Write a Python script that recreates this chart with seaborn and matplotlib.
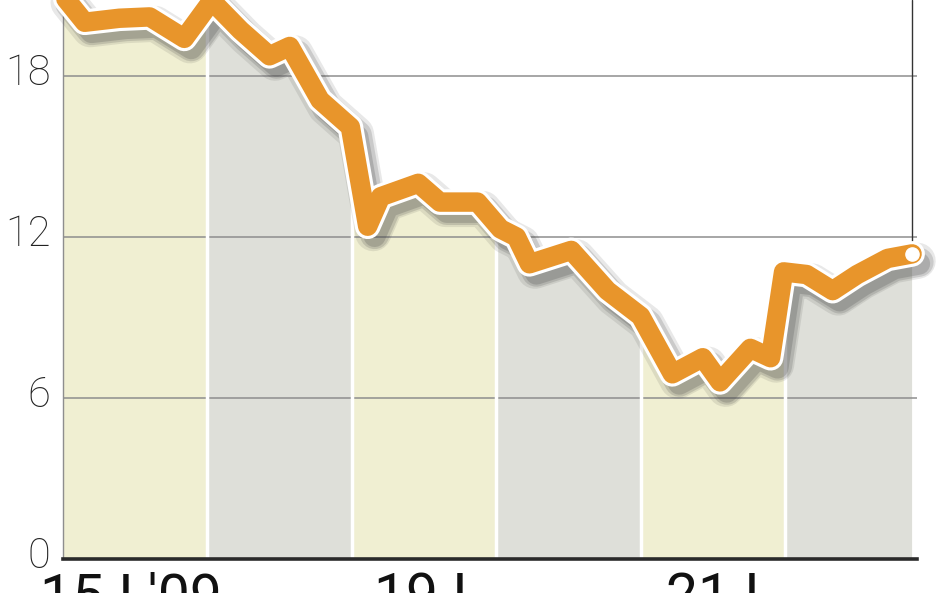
#!/usr/bin/env python3
"""
Notowania - wykres liniowy z wypelnieniem w kolumnach dni
"""

import pandas as pd
import matplotlib
matplotlib.use('Agg')
import matplotlib.pyplot as plt
import matplotlib.patheffects as pe
from matplotlib.transforms import ScaledTranslation
import seaborn as sns

# Dane (czas w dniach sesyjnych od 15 I)
time_days = [0.00, 0.15, 0.39, 0.60, 0.84, 1.03, 1.23, 1.43, 1.57, 1.78,
             1.99, 2.11, 2.20, 2.46, 2.61, 2.87, 3.03, 3.14, 3.23, 3.52,
             3.77, 4.00, 4.22, 4.43, 4.55, 4.76, 4.90, 4.99, 5.15, 5.33,
             5.50, 5.71, 5.88]
price = [21.0, 20.0, 20.15, 20.2, 19.4, 20.8, 19.7, 18.75, 19.1, 17.1,
         16.1, 12.4, 13.5, 14.0, 13.3, 13.3, 12.3, 12.0, 11.0, 11.5,
         10.0, 9.05, 6.9, 7.5, 6.6, 7.85, 7.5, 10.7, 10.6, 10.0,
         10.6, 11.2, 11.37]
n_days = 6
day_labels = ["15 I '09", "19 I", "21 I"]
label_pos = [0.47, 2.48, 4.5]
y_ticks = [0, 6, 12, 18]

ORANGE = '#e8952b'
COL_YELLOW = '#f0efd2'
COL_GRAY = '#dedfd9'

sns.set_style('white')
plt.rcParams['font.family'] = ['Roboto', 'DejaVu Sans']

df = pd.DataFrame({'t': time_days, 'v': price})

fig = plt.figure(figsize=(9.48, 5.93), dpi=100)
ax = fig.add_axes([63 / 948, 34 / 593, 854 / 948, 559 / 593])
y_top = 20.83
ax.set_xlim(0, 5.914)
ax.set_ylim(0, y_top)

# Obszar pod krzywa - kolumny dni
area = ax.fill_between(df['t'], df['v'], 0, color='none', lw=0)
clip = area.get_paths()[0]
for i in range(n_days):
    span = ax.axvspan(i, i + 1, color=COL_YELLOW if i % 2 == 0 else COL_GRAY, lw=0, zorder=1)
    span.set_clip_path(clip, ax.transData)

# Linie siatki
for y in y_ticks[1:]:
    ax.axhline(y, color='#8e8e8e', lw=1.1, zorder=2)

# Biale separatory dni
for i in range(1, n_days):
    sep = ax.axvline(i, color='white', lw=2.5, zorder=3)
    sep.set_clip_path(clip, ax.transData)

# Pionowa linia do ostatniego notowania
ax.plot([time_days[-1], time_days[-1]], [price[-1], y_top], color='#333333', lw=1.0,
        zorder=3.5, clip_on=False)

# Linia notowan z rozmytym cieniem i biala obwodka
effects = [
    pe.SimpleLineShadow(offset=(4, -5), shadow_color='#444444', alpha=0.12, linewidth=26),
    pe.SimpleLineShadow(offset=(5, -6), shadow_color='#444444', alpha=0.18, linewidth=21),
    pe.SimpleLineShadow(offset=(5, -7), shadow_color='#444444', alpha=0.22, linewidth=16),
    pe.Stroke(linewidth=18.5, foreground='white'),
    pe.Normal(),
]
sns.lineplot(data=df, x='t', y='v', ax=ax, color=ORANGE, lw=14, zorder=4,
             solid_capstyle='round', solid_joinstyle='round', path_effects=effects)
for ln in ax.lines[-1:]:
    ln.set_clip_on(False)
ax.plot(time_days[-1], price[-1], 'o', color='white', ms=9.5, mec='white', zorder=5, clip_on=False)

# Osie
sns.despine(ax=ax, top=True, right=True)
ax.spines['bottom'].set_color('#2a2a2a')
ax.spines['bottom'].set_linewidth(2.6)
ax.spines['bottom'].set_zorder(6)
ax.spines['left'].set_color('#8e8e8e')
ax.spines['left'].set_linewidth(1.0)

ax.set_yticks(y_ticks)
ax.set_yticklabels([str(y) for y in y_ticks], fontsize=30, fontweight='light', color='#222222')
ax.set_xticks(label_pos)
ax.set_xticklabels(day_labels, fontsize=41, color='#111111')
ax.tick_params(axis='y', length=0, pad=9)
ax.tick_params(axis='x', length=0, pad=9)
ax.set_xlabel('')
ax.set_ylabel('')
for lbl in ax.get_yticklabels():
    lbl.set_transform(lbl.get_transform() + ScaledTranslation(0, 7 / 100, fig.dpi_scale_trans))

plt.savefig('out.png', dpi=100)
plt.close()
